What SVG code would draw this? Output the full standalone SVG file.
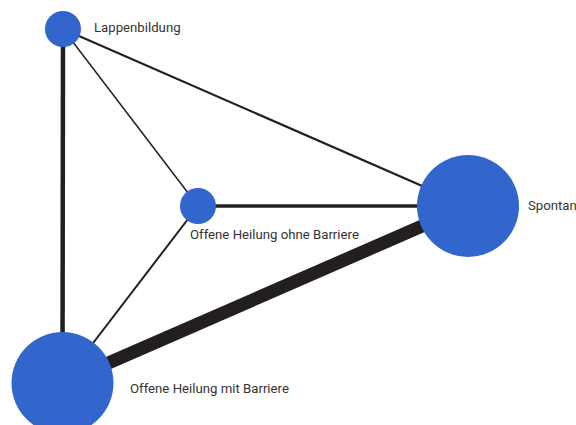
<svg xmlns="http://www.w3.org/2000/svg" width="576" height="425" viewBox="0 0 576 425">
<style>
.node{fill:#3366cc}
.lbl{font-family:Roboto,"Liberation Sans",sans-serif;font-size:13.2px;fill:#333}
.e{stroke:#231f20;fill:none}
</style>
<rect width="576" height="425" fill="#fff"/>
<g id="edges">
<line class="e" x1="63" y1="29" x2="62.5" y2="383" stroke-width="4.5"/>
<line class="e" x1="63" y1="29" x2="198" y2="206" stroke-width="1.5"/>
<line class="e" x1="63" y1="29" x2="468" y2="206" stroke-width="2.2"/>
<line class="e" x1="198" y1="206" x2="468" y2="206" stroke-width="3.5"/>
<line class="e" x1="198" y1="206" x2="62.5" y2="383" stroke-width="2"/>
<line class="e" x1="62.5" y1="383" x2="468" y2="206" stroke-width="13"/>
</g>
<g id="n-lappen"><circle class="node" cx="63" cy="29" r="18"/><text class="lbl" x="94" y="31.5">Lappenbildung</text></g>
<g id="n-ohne"><circle class="node" cx="198" cy="206" r="18"/><text class="lbl" x="190" y="239">Offene Heilung ohne Barriere</text></g>
<g id="n-spontan"><circle class="node" cx="468" cy="206" r="51"/><text class="lbl" x="528" y="209.5">Spontan</text></g>
<g id="n-mit"><circle class="node" cx="62.5" cy="383" r="51"/><text class="lbl" x="130" y="392.5">Offene Heilung mit Barriere</text></g>
</svg>
